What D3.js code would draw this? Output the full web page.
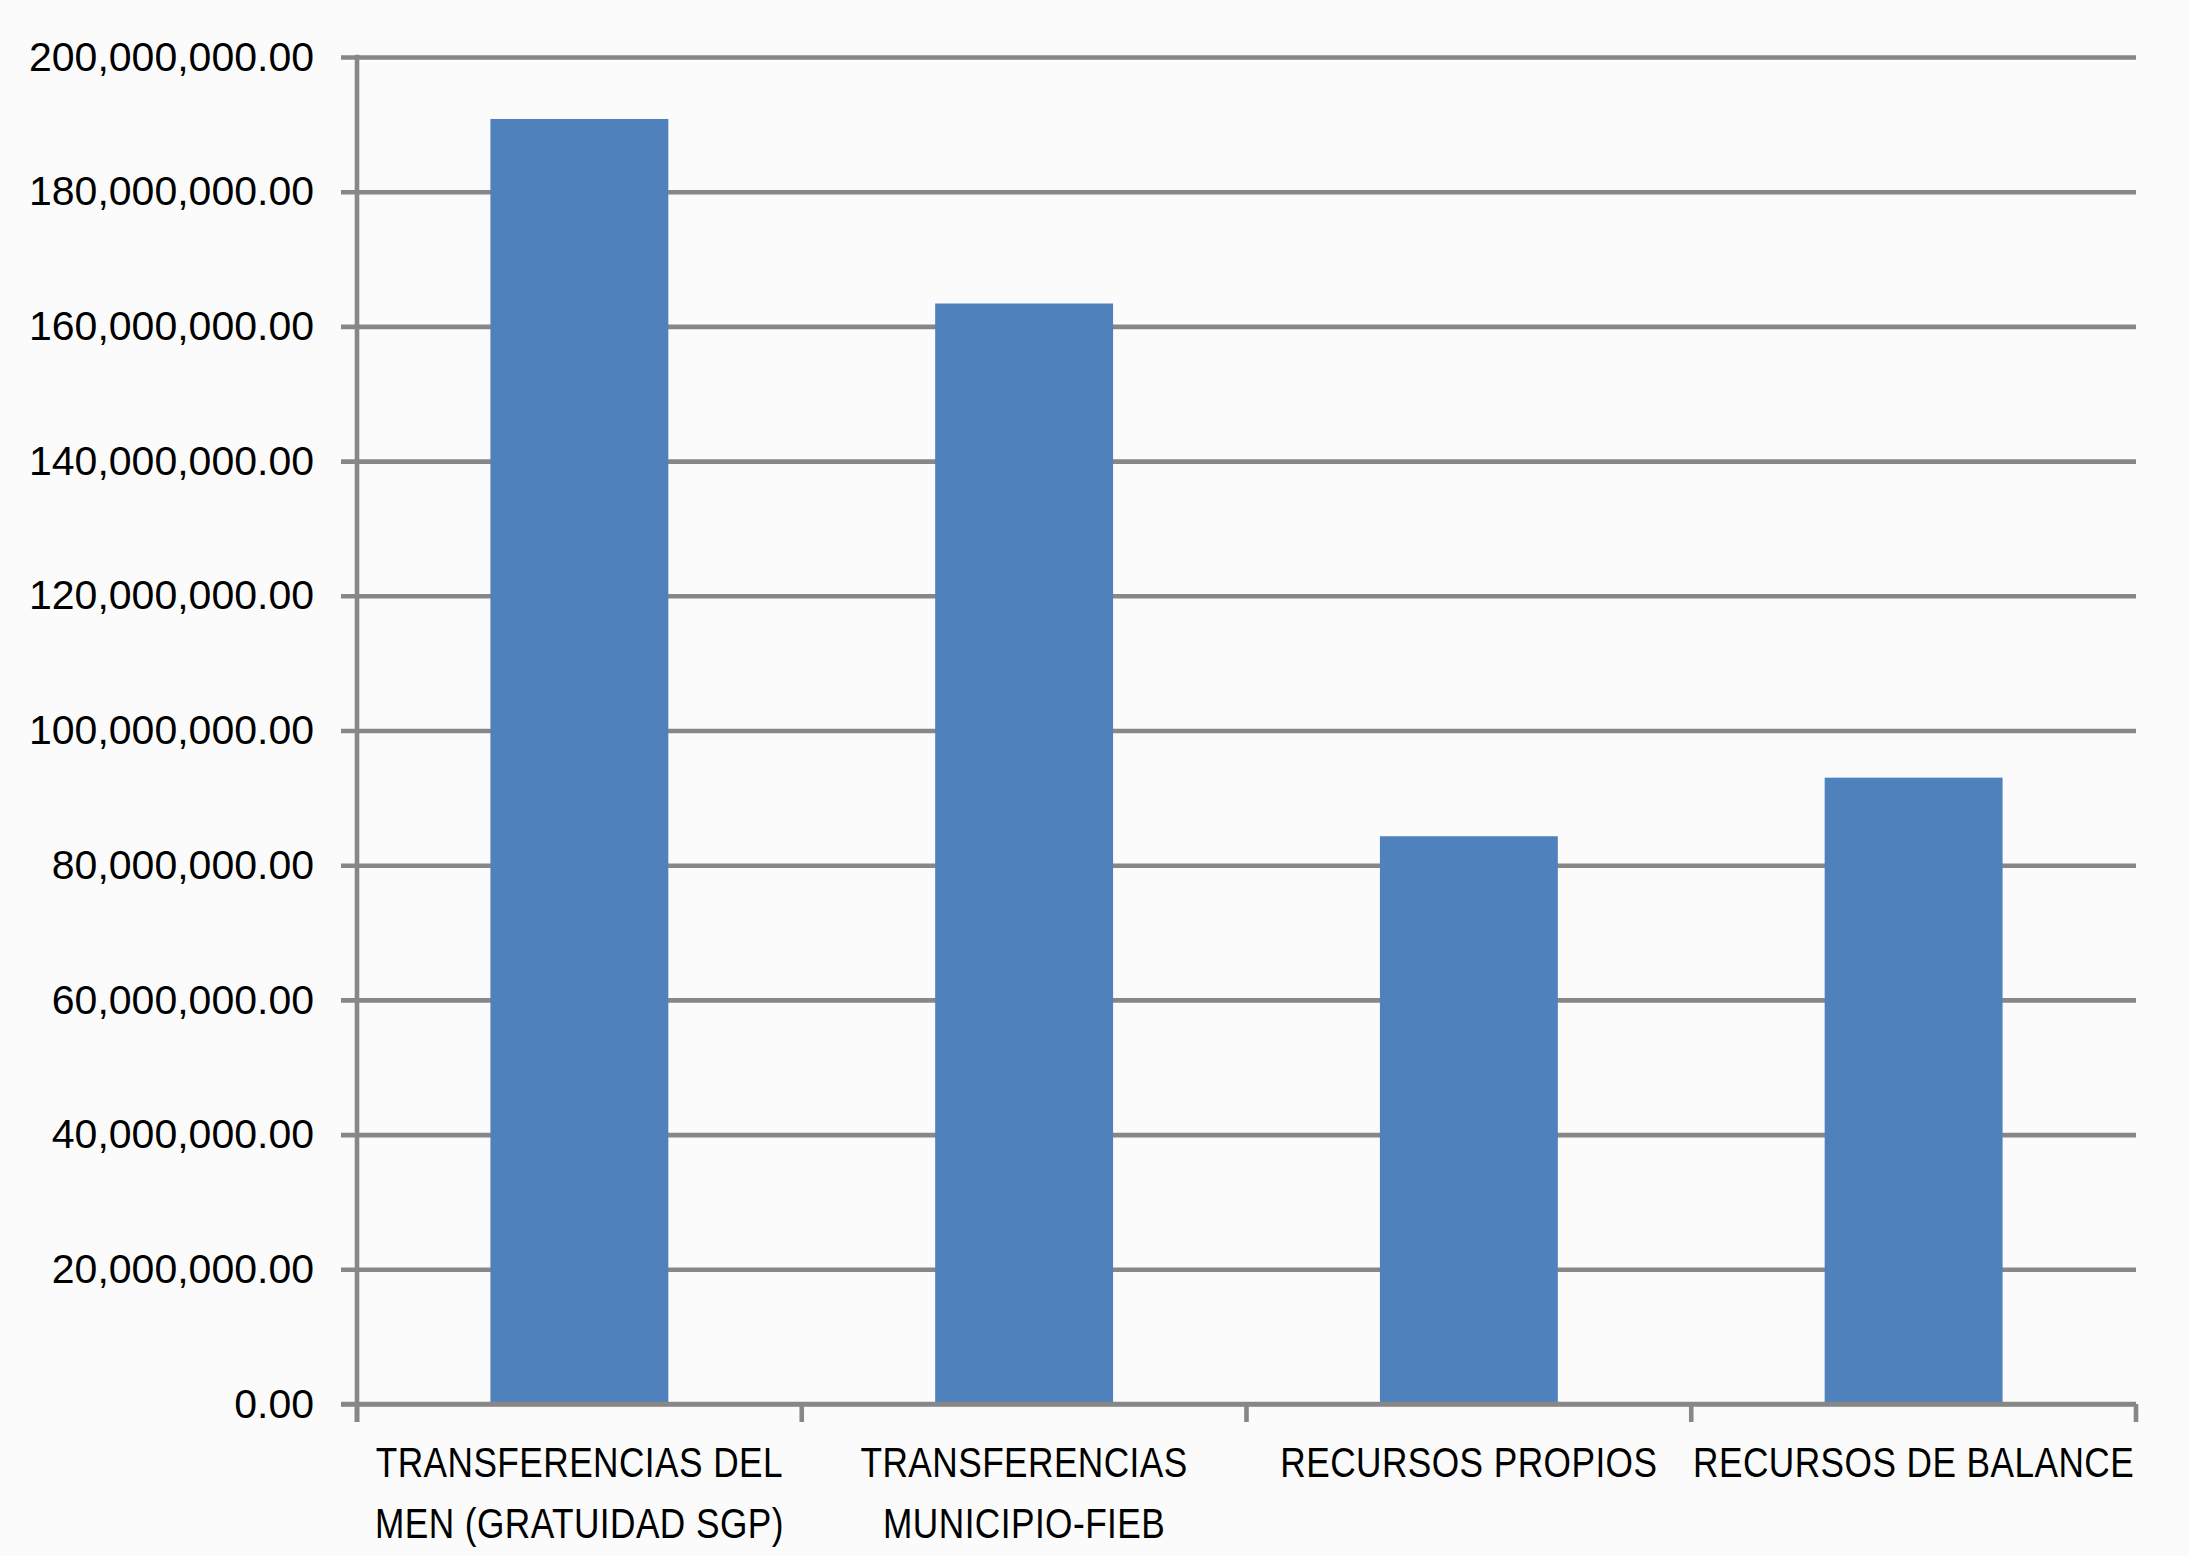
<!DOCTYPE html>
<html>
<head>
<meta charset="utf-8">
<script src="https://cdn.jsdelivr.net/npm/d3@7"></script>
<style>
  html, body { margin: 0; padding: 0; background: #fbfbfb; }
  svg { display: block; }
</style>
</head>
<body>
<script>
// ---- data ----
const categories = [
  "TRANSFERENCIAS DEL MEN (GRATUIDAD SGP)",
  "TRANSFERENCIAS MUNICIPIO-FIEB",
  "RECURSOS PROPIOS",
  "RECURSOS DE BALANCE"
];
const categoryLines = [
  ["TRANSFERENCIAS DEL", "MEN (GRATUIDAD SGP)"],
  ["TRANSFERENCIAS", "MUNICIPIO-FIEB"],
  ["RECURSOS PROPIOS"],
  ["RECURSOS DE BALANCE"]
];
const values = [190800000, 163400000, 84300000, 93000000];
const yTicks = [0, 20000000, 40000000, 60000000, 80000000, 100000000,
                120000000, 140000000, 160000000, 180000000, 200000000];

// ---- layout ----
const W = 2189, H = 1556;
const margin = { left: 357, right: 53, top: 57, bottom: 152 };
const gridColor = "#878787";
const barColor = "#4F81BD";

const svg = d3.select("body").append("svg")
  .attr("width", W).attr("height", H);

svg.append("rect").attr("width", W).attr("height", H).attr("fill", "#fbfbfb");

const x = d3.scaleBand()
  .domain(categories)
  .range([margin.left, W - margin.right])
  .paddingInner(0.6)
  .paddingOuter(0.3);

const y = d3.scaleLinear()
  .domain([0, 200000000])
  .range([H - margin.bottom, margin.top]);

const fmt = d3.format(",.2f");

// gridlines + y tick stubs
const yAxis = d3.axisLeft(y)
  .tickValues(yTicks)
  .tickFormat(fmt)
  .tickSize(-(W - margin.right - margin.left))
  .tickPadding(43)
  .tickSizeOuter(0);

const gy = svg.append("g")
  .attr("transform", `translate(${margin.left},0)`)
  .call(yAxis);
gy.select(".domain").remove();
gy.selectAll(".tick line")
  .attr("x1", -16)
  .attr("stroke", gridColor)
  .attr("stroke-width", 4.6);
gy.selectAll(".tick text")
  .attr("font-family", "'Liberation Sans', Arial, sans-serif")
  .attr("font-size", 41)
  .attr("fill", "#000")
  .attr("dy", "0.32em");

// bars
svg.append("g").selectAll("rect")
  .data(categories)
  .join("rect")
  .attr("x", d => x(d))
  .attr("width", x.bandwidth())
  .attr("y", (d, i) => y(values[i]))
  .attr("height", (d, i) => y(0) - y(values[i]))
  .attr("fill", barColor);

// y axis line
svg.append("line")
  .attr("x1", margin.left).attr("x2", margin.left)
  .attr("y1", y(200000000) - 2.3).attr("y2", y(0) + 18)
  .attr("stroke", gridColor).attr("stroke-width", 4.6);

// x axis line
svg.append("line")
  .attr("x1", margin.left - 16).attr("x2", W - margin.right)
  .attr("y1", y(0)).attr("y2", y(0))
  .attr("stroke", gridColor).attr("stroke-width", 4.6);

// x ticks at category boundaries
const bounds = d3.range(categories.length + 1).map(i => x.range()[0] + i * x.step());
svg.append("g").selectAll("line")
  .data(bounds)
  .join("line")
  .attr("x1", d => d).attr("x2", d => d)
  .attr("y1", y(0)).attr("y2", y(0) + 18)
  .attr("stroke", gridColor).attr("stroke-width", 4.6);

// x labels (horizontally condensed to mimic the narrow original face)
const lg = svg.append("g")
  .attr("font-family", "'Liberation Sans', Arial, sans-serif")
  .attr("font-size", 42)
  .attr("letter-spacing", 0.5)
  .attr("fill", "#000")
  .attr("text-anchor", "middle");

categories.forEach((c, i) => {
  const t = lg.append("text")
    .attr("transform", `translate(${x(c) + x.bandwidth() / 2},${y(0) + 73}) scale(0.84,1)`);
  categoryLines[i].forEach((ln, j) => {
    t.append("tspan")
      .attr("x", 0)
      .attr("y", j * 61)
      .text(ln);
  });
});
</script>
</body>
</html>
